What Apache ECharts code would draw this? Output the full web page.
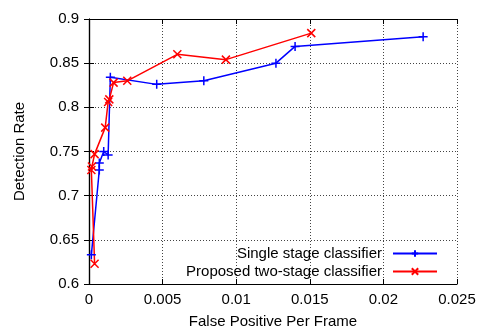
<!DOCTYPE html>
<html>
<head>
<meta charset="utf-8">
<script src="https://cdn.jsdelivr.net/npm/echarts@6/dist/echarts.min.js"></script>
<style>
  html, body { margin: 0; padding: 0; background: #fff; }
  #main { width: 479px; height: 328px; }
</style>
</head>
<body>
<div id="main"></div>
<script>
// single stage classifier (blue, +)
let singleFP = [0.00016, 0.0007, 0.0007, 0.001, 0.0013, 0.00145, 0.0046, 0.0078, 0.0127, 0.014, 0.0227]
let singleDR = [0.633, 0.729, 0.737, 0.750, 0.746, 0.834, 0.826, 0.830, 0.850, 0.869, 0.880]
// proposed two-stage classifier (red, x)
let twoFP = [0.00038, 0.00016, 0.0002, 0.00038, 0.0011, 0.0013, 0.00138, 0.00167, 0.0026, 0.006, 0.0093, 0.0151]
let twoDR = [0.623, 0.729, 0.733, 0.747, 0.777, 0.806, 0.809, 0.828, 0.830, 0.860, 0.854, 0.884]

let names = ['Single stage classifier', 'Proposed two-stage classifier']

const plusPath = 'path://M0,5L10,5M5,0L5,10'
const crossPath = 'path://M0,0L10,10M0,10L10,0'
const font = 'Liberation Sans'
const fs = 15

let zip = (xs, ys) => xs.map((x, i) => [x, ys[i]])

let myChart = echarts.init(document.getElementById('main'))

let gridLine = {show: true, lineStyle: {color: '#444', type: [1, 2], width: 1}}
let tick = {show: true, inside: true, length: 5, lineStyle: {color: '#000', width: 1}}
let axisLine = {show: true, lineStyle: {color: '#000', width: 1.2}}

let option = {
    animation: false,
    textStyle: {fontFamily: font},
    grid: {left: 89, right: 22, top: 19, bottom: 44, outerBoundsMode: 'none'},
    legend: {
        orient: 'vertical',
        right: 36,
        top: 241,
        align: 'right',
        itemWidth: 44,
        itemHeight: 8,
        itemGap: 3,
        textStyle: {fontSize: fs, color: '#000', fontFamily: font, padding: [0, 6, 0, 0]},
        data: names
    },
    xAxis: [
        {
            type: 'value', min: 0, max: 0.025, interval: 0.005,
            name: 'False Positive Per Frame', nameLocation: 'middle', nameGap: 30,
            nameTextStyle: {fontSize: fs, color: '#000'},
            axisLine: axisLine, axisTick: tick, splitLine: gridLine,
            axisLabel: {fontSize: fs, color: '#000', margin: 8}
        },
        {
            type: 'value', position: 'top', min: 0, max: 0.025, interval: 0.005,
            axisLine: axisLine, axisTick: tick, splitLine: {show: false},
            axisLabel: {show: false}
        }
    ],
    yAxis: [
        {
            type: 'value', min: 0.6, max: 0.9, interval: 0.05,
            name: 'Detection Rate', nameLocation: 'middle', nameGap: 62,
            nameTextStyle: {fontSize: fs, color: '#000'},
            axisLine: axisLine, axisTick: tick, splitLine: gridLine,
            axisLabel: {fontSize: fs, color: '#000', margin: 10}
        },
        {
            type: 'value', position: 'right', min: 0.6, max: 0.9, interval: 0.05,
            axisLine: axisLine, axisTick: tick, splitLine: {show: false},
            axisLabel: {show: false}
        }
    ],
    series: [
        {
            name: names[0],
            type: 'line',
            data: zip(singleFP, singleDR),
            symbol: plusPath,
            symbolSize: 9,
            showAllSymbol: true,
            color: '#0000ff',
            lineStyle: {color: '#0000ff', width: 1.5},
            itemStyle: {color: '#0000ff', borderColor: '#0000ff', borderWidth: 1.5}
        },
        {
            name: names[1],
            type: 'line',
            data: zip(twoFP, twoDR),
            symbol: crossPath,
            symbolSize: 8,
            showAllSymbol: true,
            color: '#ff0000',
            lineStyle: {color: '#ff0000', width: 1.5},
            itemStyle: {color: '#ff0000', borderColor: '#ff0000', borderWidth: 1.5}
        }
    ]
}
myChart.setOption(option)
</script>
</body>
</html>
